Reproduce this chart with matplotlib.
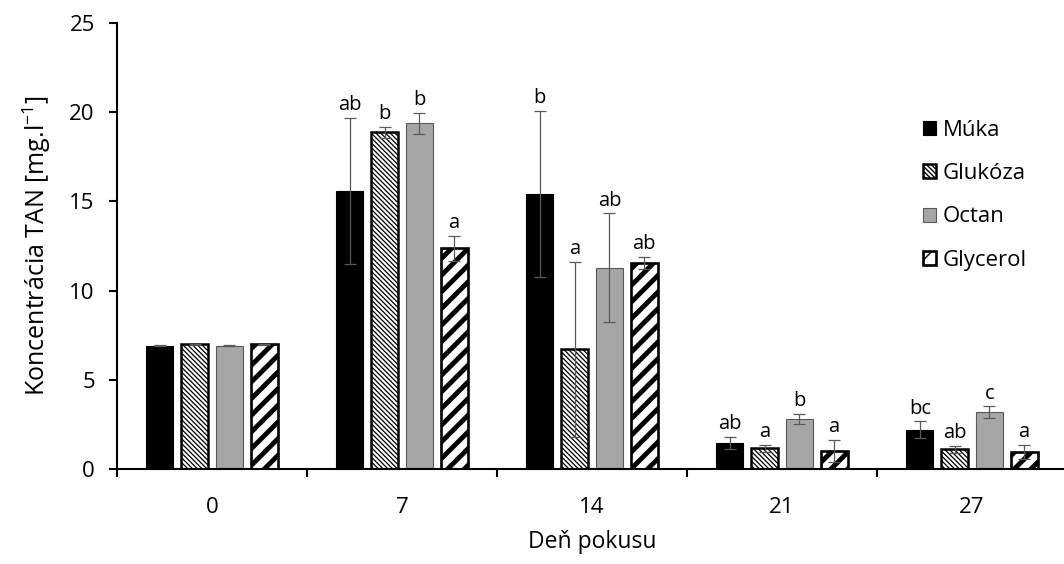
import matplotlib
matplotlib.use('Agg')
import matplotlib.pyplot as plt
import numpy as np

plt.rcParams['font.family'] = ['Open Sans', 'DejaVu Sans']

# data
days = ['0', '7', '14', '21', '27']
series = ['Múka', 'Glukóza', 'Octan', 'Glycerol']

muka = [6.91, 15.58, 15.43, 1.46, 2.20]
glukoza = [6.99, 18.87, 6.71, 1.16, 1.10]
octan = [6.92, 19.38, 11.28, 2.82, 3.18]
glycerol = [6.98, 12.37, 11.55, 1.03, 0.95]

muka_err = [0.02, 4.10, 4.65, 0.32, 0.47]
glukoza_err = [0.02, 0.30, 4.90, 0.20, 0.19]
octan_err = [0.02, 0.60, 3.05, 0.28, 0.33]
glycerol_err = [0.02, 0.70, 0.35, 0.61, 0.41]

muka_lbl = ['', 'ab', 'b', 'ab', 'bc']
glukoza_lbl = ['', 'b', 'a', 'a', 'ab']
octan_lbl = ['', 'b', 'ab', 'b', 'c']
glycerol_lbl = ['', 'a', 'ab', 'a', 'a']

values = [muka, glukoza, octan, glycerol]
errors = [muka_err, glukoza_err, octan_err, glycerol_err]
letters = [muka_lbl, glukoza_lbl, octan_lbl, glycerol_lbl]

styles = [
    dict(color='black', edgecolor='black', hatch=None, hlw=1.0, lw=0.8),
    dict(color='white', edgecolor='black', hatch='\\\\\\\\\\\\\\', hlw=0.9, lw=1.8),
    dict(color='#a6a6a6', edgecolor='#595959', hatch=None, hlw=1.0, lw=0.8),
    dict(color='white', edgecolor='black', hatch='//', hlw=3.5, lw=1.9),
]

fig = plt.figure(figsize=(10.64, 5.64), dpi=100)
ax = fig.add_axes([117 / 1064, 95 / 564, 950 / 1064, 446 / 564])

x = np.arange(len(days))
pitch = 0.183
width = 0.142
handles = []
for i, (vals, errs, st) in enumerate(zip(values, errors, styles)):
    pos = x + (i - 1.5) * pitch
    with plt.rc_context({'hatch.linewidth': st['hlw'], 'hatch.color': 'black'}):
        bars = ax.bar(pos, vals, width, color=st['color'], edgecolor=st['edgecolor'],
                      hatch=st['hatch'], linewidth=st['lw'], label=series[i], zorder=2)
    for b in bars:
        if hasattr(b, 'set_hatch_linewidth'):
            b.set_hatch_linewidth(st['hlw'])
    ax.errorbar(pos, vals, yerr=errs, fmt='none', ecolor='#595959', elinewidth=0.9,
                capsize=4, capthick=0.9, zorder=3)
    for p, v, e, t in zip(pos, vals, errs, letters[i]):
        if t:
            ax.annotate(t, (p, v + e), xytext=(0, 2), textcoords='offset points',
                        ha='center', va='bottom', fontsize=14.5)
    handles.append(bars)

ax.set_xlim(-0.5, 4.5)
ax.set_ylim(0, 25)
ax.set_yticks(range(0, 26, 5))

ax.set_xticks(np.arange(-0.5, 5, 1))
ax.set_xticklabels([])
ax.set_xticks(x, minor=True)
ax.set_xticklabels(days, minor=True)
ax.tick_params(axis='x', which='minor', length=0, pad=20, labelsize=16)
ax.tick_params(axis='x', which='major', length=6, width=1.5, direction='out')
ax.tick_params(axis='y', length=6, width=1.5, direction='out', pad=10, labelsize=16)

for s in ['top', 'right']:
    ax.spines[s].set_visible(False)
for s in ['left', 'bottom']:
    ax.spines[s].set_linewidth(1.5)

ax.set_ylabel('Koncentrácia TAN [mg.l$^{\\mathregular{-1}}$]', fontsize=18, labelpad=12)
ax.set_xlabel('Deň pokusu', fontsize=16.5, labelpad=9)

fig.legend(handles=handles, labels=series, loc='upper left',
           bbox_to_anchor=(903 / 1064, 1 - 100 / 564), frameon=False, fontsize=16,
           handlelength=0.6, handleheight=0.6, handletextpad=0.3, labelspacing=1.0)

fig.savefig('out.png', dpi=100)
